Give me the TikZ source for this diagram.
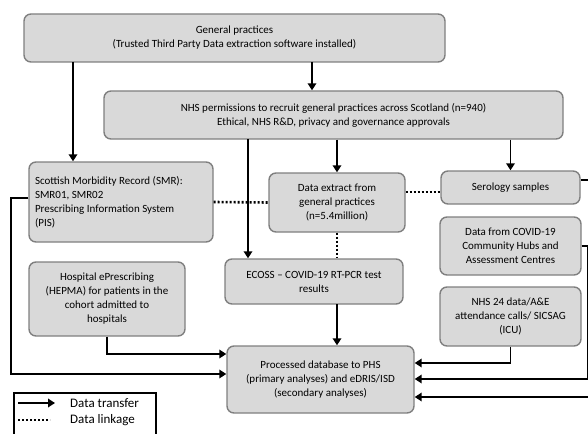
\documentclass[tikz,border=0pt]{standalone}
\usepackage{fontspec}
\setmainfont{Carlito}
\usetikzlibrary{arrows.meta,calc}
\definecolor{boxfill}{HTML}{D9D9D9}
\definecolor{boxline}{HTML}{7F7F7F}
\tikzset{
  box/.style={draw=boxline, fill=boxfill, line width=1.4pt, rounded corners=7pt,
    inner sep=0pt, font=\fontsize{11}{14}\selectfont, align=center},
  arr/.style={line width=1.8pt, -{Triangle[length=7pt,width=8.5pt]}},
  dotl/.style={line width=2.6pt, dash pattern=on 2pt off 2pt},
  lbl/.style={font=\fontsize{13}{15}\selectfont, anchor=west, inner sep=0pt},
}
\begin{document}
\begin{tikzpicture}[x=1pt,y=-1pt]
\useasboundingbox (0,0) rectangle (588,433);
\begin{scope}
\clip (0,0) rectangle (588,433);
\node[box, minimum width=421pt, minimum height=48pt] (gp) at (234.5,38)
  {General practices\\(Trusted Third Party Data extraction software installed)};
\node[box, minimum width=459pt, minimum height=48pt] (nhs) at (333.5,115)
  {NHS permissions to recruit general practices across Scotland (n=940)\\Ethical, NHS R\&D, privacy and governance approvals};
\node[box, minimum width=184pt, minimum height=80pt, align=flush left, text width=172pt] (smr) at (121,202)
  {Scottish Morbidity Record (SMR):\\SMR01, SMR02\\Prescribing Information System\\(PIS)};
\node[box, minimum width=136pt, minimum height=59pt] (de) at (337,202.5)
  {Data extract from\\general practices\\(n=5.4million)};
\node[box, minimum width=139pt, minimum height=33pt] (sero) at (510.5,187.5)
  {Serology samples};
\node[box, minimum width=178pt, minimum height=45pt] (ecoss) at (314,281.5)
  {ECOSS -- COVID-19 RT-PCR test\\results};
\node[box, minimum width=141pt, minimum height=58pt] (hubs) at (510.5,246)
  {Data from COVID-19\\Community Hubs and\\Assessment Centres};
\node[box, minimum width=141pt, minimum height=59pt] (nhs24) at (510.5,316.5)
  {NHS 24 data/A\&E\\attendance calls/ SICSAG\\(ICU)};
\node[box, minimum width=156pt, minimum height=74pt] (hosp) at (107,299)
  {Hospital ePrescribing\\(HEPMA) for patients in the\\cohort admitted to\\hospitals};
\node[box, minimum width=187pt, minimum height=67pt] (proc) at (320.5,379.5)
  {Processed database to PHS\\(primary analyses) and eDRIS/ISD\\(secondary analyses)};

% transfers
\coordinate (gpA) at (312,62);
\coordinate (gpB) at (73,62);
\draw[arr] (gpA) -- (gpA |- nhs.north);
\draw[arr] (gpB) -- (gpB |- smr.north);
\coordinate (nA) at (248,139);
\draw[arr] (nA) -- (nA |- ecoss.north);
\draw[arr] (nhs.south -| de.north) -- (de.north);
\draw[arr] (nhs.south -| sero.north) -- (sero.north);
\coordinate (ev) at (337,304);
\draw[arr] (ev) -- (ev |- proc.north);
\coordinate (sl) at (11,374);
\draw[arr] ([yshift=4pt]smr.west) -| (sl) -- (sl -| proc.west);
\draw[arr] (hosp.south) |- ([yshift=25.5pt]proc.west);
\draw[arr] (nhs24.south) |- ([yshift=16.5pt]proc.east);
\coordinate (hr) at (588,246);
\draw[arr] (hubs.east) -- (hr) |- ([yshift=0.5pt]proc.east);
\coordinate (sr) at (596,180);
\draw[arr] ([yshift=7.5pt]sero.east) -- (sr) |- ([yshift=-17.5pt]proc.east);

% linkages
\draw[dotl] (smr.east) -- (de.west);
\draw[dotl] (de.east |- 0,192) -- (sero.west |- 0,192);
\draw[dotl] (ev |- de.south) -- (ev |- ecoss.north);

% legend
\draw[line width=1.6pt] (156,450) -- (156,393) -- (14,393) -- (14,450);
\coordinate (l1) at (18,403);
\coordinate (l2) at (55,403);
\draw[arr] (l1) -- (l2);
\node[lbl] (lt) at (70,403) {Data transfer};
\coordinate (l3) at (18,420);
\coordinate (l4) at (50,420);
\draw[dotl] (l3) -- (l4);
\node[lbl] (ll) at (70,420) {Data linkage};
\end{scope}
\end{tikzpicture}
\end{document}
